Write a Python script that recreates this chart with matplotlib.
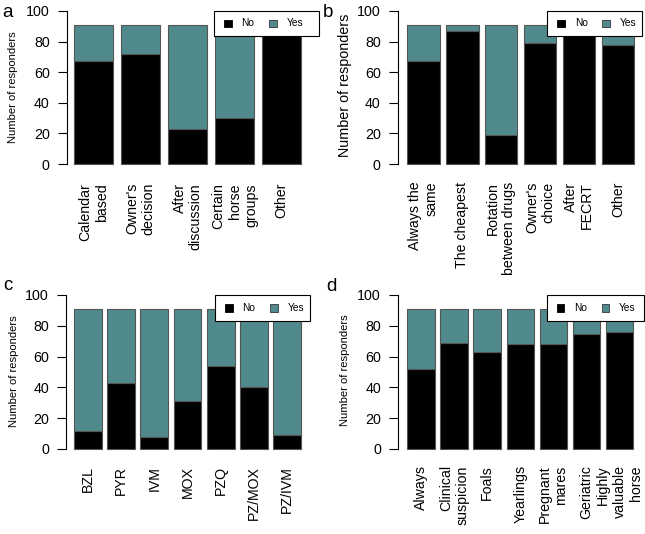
import matplotlib
matplotlib.use("Agg")
import matplotlib.pyplot as plt
from matplotlib.patches import Rectangle

plt.rcParams['font.family'] = ['Liberation Sans', 'DejaVu Sans']

# ---- data ----
a_labels = ["Calendar\nbased", "Owner's\ndecision", "After\ndiscussion",
            "Certain\nhorse\ngroups", "Other"]
a_no = [67, 72, 23, 30, 88]
a_yes = [24, 19, 68, 61, 3]

b_labels = ["Always the\nsame", "The cheapest", "Rotation\nbetween drugs",
            "Owner's\nchoice", "After\nFECRT", "Other"]
b_no = [67, 87, 19, 79, 87, 78]
b_yes = [24, 4, 72, 12, 4, 13]

c_labels = ["BZL", "PYR", "IVM", "MOX", "PZQ", "PZ/MOX", "PZ/IVM"]
c_no = [12, 43, 8, 31, 54, 40, 9]
c_yes = [79, 48, 83, 60, 37, 51, 82]

d_labels = ["Always", "Clinical\nsuspicion", "Foals", "Yearlings",
            "Pregnant\nmares", "Geriatric", "Highly\nvaluable\nhorse"]
d_no = [52, 69, 63, 68, 68, 75, 76]
d_yes = [39, 22, 28, 23, 23, 16, 15]

legend_labels = ["No", "Yes"]
yticks = [0, 20, 40, 60, 80, 100]
ylabel = "Number of responders"

NO_COLOR = "#000000"
YES_COLOR = "#508a8c"
EDGE = "#555555"

W, H = 645, 534
fig = plt.figure(figsize=(W / 100, H / 100), dpi=100)


def panel(labels, no, yes, axis_px, first_left_px, unit_px, y0_px, y100_px, label_pad):
    n = len(labels)
    scale = (y0_px - y100_px) / 100.0
    left = axis_px
    right = first_left_px + (1.2 * n - 0.2) * unit_px + 10
    x_left = 0.2 - (first_left_px - axis_px) / unit_px
    x_right = x_left + (right - left) / unit_px
    top_px = y100_px - 8
    bottom_px = y0_px + 8
    ax = fig.add_axes([left / W, 1 - bottom_px / H, (right - left) / W,
                       (bottom_px - top_px) / H])
    ax.set_xlim(x_left, x_right)
    ax.set_ylim(-8 / scale, 100 + 8 / scale)
    centers = [0.7 + 1.2 * i for i in range(n)]
    ax.bar(centers, no, width=1.0, color=NO_COLOR, edgecolor=EDGE, linewidth=0.8)
    ax.bar(centers, yes, width=1.0, bottom=no, color=YES_COLOR,
           edgecolor=EDGE, linewidth=0.8)
    for s in ["top", "right", "bottom"]:
        ax.spines[s].set_visible(False)
    ax.spines["left"].set_bounds(0, 100)
    ax.spines["left"].set_linewidth(0.8)
    ax.set_yticks(yticks)
    ax.tick_params(axis="y", labelsize=10.3, length=6.7, width=0.8, pad=5.5)
    ax.set_xticks(centers)
    ax.set_xticklabels(labels, rotation=90, fontsize=10.2, ha="center", va="top")
    for t in ax.get_xticklabels():
        t.set_multialignment("right")
    ax.tick_params(axis="x", length=0, pad=label_pad)
    ax.patch.set_alpha(0)
    return ax


panel(a_labels, a_no, a_yes, 66.7, 74.0, 39.2, 164, 11, 8.0)
panel(b_labels, b_no, b_yes, 397.7, 407.3, 32.4, 164, 11, 7.0)
panel(c_labels, c_no, c_yes, 66.0, 74.0, 27.7, 449, 295, 6.5)
panel(d_labels, d_no, d_yes, 398.0, 407.3, 27.56, 449, 295, 6.0)

# overlay for legends, panel letters and y labels
ov = fig.add_axes([0, 0, 1, 1], zorder=10)
ov.set_xlim(0, W)
ov.set_ylim(H, 0)
ov.axis("off")


def legend(x0, x1, y0, y1):
    ov.add_patch(Rectangle((x0, y0), x1 - x0, y1 - y0, facecolor="white",
                           edgecolor="black", linewidth=0.8))
    yc = (y0 + y1) / 2
    sq = 7.5
    ov.add_patch(Rectangle((x0 + 10, yc - sq / 2), sq, sq, facecolor=NO_COLOR,
                           edgecolor="black", linewidth=0.6))
    ov.text(x0 + 27.5, yc, legend_labels[0], fontsize=7.3, va="center", ha="left")
    ov.add_patch(Rectangle((x0 + 55, yc - sq / 2), sq, sq, facecolor=YES_COLOR,
                           edgecolor="#333333", linewidth=0.6))
    ov.text(x0 + 72.5, yc, legend_labels[1], fontsize=7.3, va="center", ha="left")


legend(214, 319, 11, 35.7)
legend(547.3, 642, 11, 35.7)
legend(215, 310, 295, 320.7)
legend(546.7, 644, 295, 320.7)

for letter, x, y in [("a", 2.5, 16.7), ("b", 322.5, 16.7), ("c", 3, 290), ("d", 326, 290.7)]:
    ov.text(x, y, letter, fontsize=13.5, ha="left", va="baseline")

ov.text(13.3, 87.5, ylabel, fontsize=8.1, rotation=90, ha="center", va="center")
ov.text(345, 85, ylabel, fontsize=10.35, rotation=90, ha="center", va="center")
ov.text(13.7, 371, ylabel, fontsize=8.1, rotation=90, ha="center", va="center")
ov.text(345, 370, ylabel, fontsize=8.1, rotation=90, ha="center", va="center")

fig.savefig("out.png", dpi=100)
